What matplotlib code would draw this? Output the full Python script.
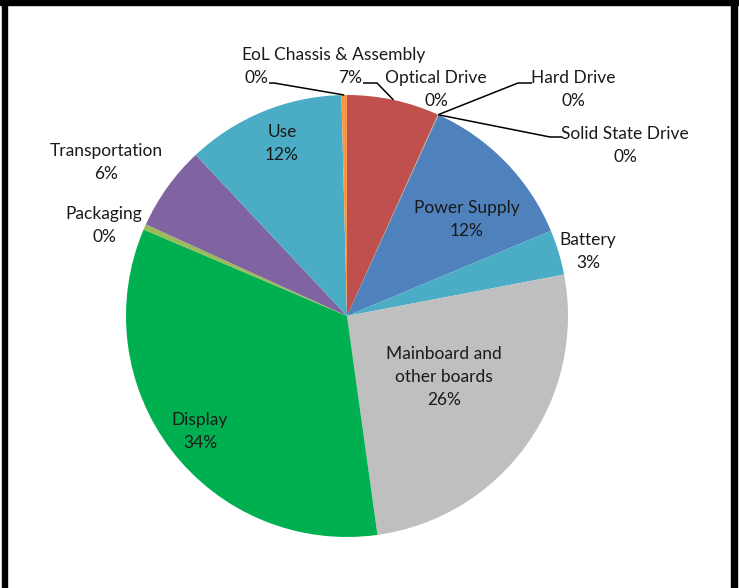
import numpy as np
import matplotlib.pyplot as plt
from matplotlib.patches import Rectangle

# data (percent of total)
names = ['Chassis & Assembly', 'Optical Drive', 'Hard Drive', 'Solid State Drive',
         'Power Supply', 'Battery', 'Mainboard and\nother boards', 'Display',
         'Packaging', 'Transportation', 'Use', 'EoL']
values = [6.74, 0.02, 0.02, 0.02, 11.9, 3.3, 25.8, 33.6, 0.4, 6.2, 11.6, 0.4]
colors = ['#C0504D', '#9BBB59', '#8064A2', '#F79646', '#4F81BD', '#4BACC6',
          '#BFBFBF', '#00B050', '#9BBB59', '#8064A2', '#4BACC6', '#F79646']

W, H = 739, 588
fig = plt.figure(figsize=(W / 100, H / 100), dpi=100)
ax = fig.add_axes([0, 0, 1, 1])

def py(y):
    # pixel row -> data y
    return H - y

cx, cy, r = 347, py(316), 221
wedges, _ = ax.pie(values, colors=colors, startangle=90, counterclock=False,
                   center=(cx, cy), radius=r,
                   wedgeprops=dict(linewidth=0))
ax.set_xlim(0, W)
ax.set_ylim(0, H)
ax.set_aspect('equal')
ax.axis('off')

total = sum(values)
fs = 12.5
fam = ['Lato', 'DejaVu Sans']
step = 23  # px between label lines

# centre of the first line of each label, pixel coords
label_pos = {
    'EoL': (256, 55),
    'Chassis & Assembly': (350, 55),
    'Optical Drive': (436, 78),
    'Hard Drive': (573, 78),
    'Solid State Drive': (625, 134),
    'Power Supply': (467, 208),
    'Battery': (588, 240),
    'Mainboard and\nother boards': (444, 354),
    'Display': (200, 420),
    'Packaging': (104, 214),
    'Transportation': (106, 151),
    'Use': (282, 132),
}

for name, v in zip(names, values):
    pct = round(100 * v / total)
    x, y = label_pos[name]
    lines = name.split('\n') + [f'{pct}%']
    for k, s in enumerate(lines):
        ax.text(x, py(y + k * step), s, ha='center', va='center',
                fontsize=fs, family=fam, color='#1a1a1a')

def edge_point(i, frac=0.5):
    w = wedges[i]
    t = np.deg2rad(w.theta1 + (w.theta2 - w.theta1) * frac)
    return cx + r * np.cos(t), cy + r * np.sin(t)

# leader lines
def leader(i, pts):
    ex, ey = edge_point(i)
    xs = [p[0] for p in pts] + [ex]
    ys = [py(p[1]) for p in pts] + [ey]
    ax.plot(xs, ys, color='black', lw=1.1, solid_capstyle='butt')

leader(11, [(269, 83), (274, 83)])
leader(0, [(363, 83), (377, 83)])
leader(2, [(532, 83), (518, 83)])
leader(3, [(562, 137), (550, 137)])

# frame bits around the picture
fig.patches.append(Rectangle((0, 1 - 5 / H), 1, 5 / H, transform=fig.transFigure,
                             color='black', zorder=10))
fig.patches.append(Rectangle((2 / W, 0), 5 / W, 1, transform=fig.transFigure,
                             color='black', zorder=10))
fig.patches.append(Rectangle((731 / W, 0), 6 / W, 1, transform=fig.transFigure,
                             color='black', zorder=10))

fig.savefig('out.png', dpi=100)
